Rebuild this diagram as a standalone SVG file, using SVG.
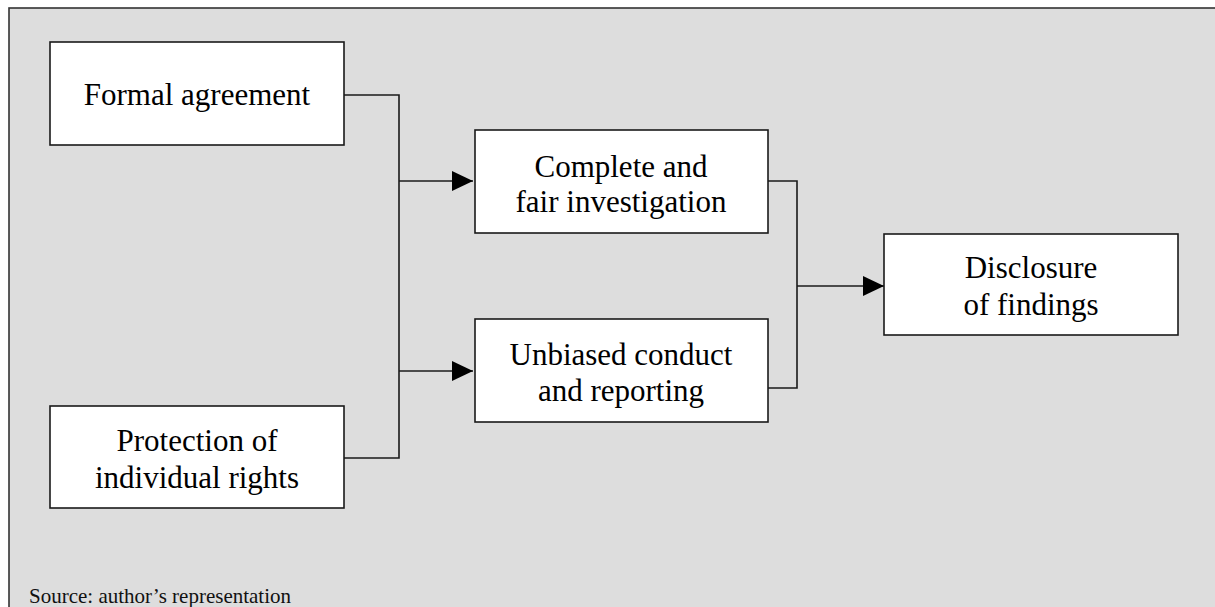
<svg xmlns="http://www.w3.org/2000/svg" width="1215" height="607" viewBox="0 0 1215 607">
  <style>
    .box { fill: #ffffff; stroke: #1a1a1a; stroke-width: 1.6; }
    .lbl { font-family: "Liberation Serif", "Times New Roman", serif; font-size: 31px; fill: #000000; text-anchor: middle; }
    .wire { fill: none; stroke: #1a1a1a; stroke-width: 1.6; }
    .src { font-family: "Liberation Serif", "Times New Roman", serif; font-size: 21px; fill: #111111; }
  </style>
  <defs>
    <marker id="arrow" markerUnits="userSpaceOnUse" markerWidth="22" markerHeight="22" refX="21" refY="10" orient="auto">
      <path d="M0,0 L21,10 L0,20 Z" fill="#000000"/>
    </marker>
  </defs>

  <!-- panel background -->
  <rect x="9" y="8" width="1216" height="610" fill="#dddddd" stroke="#333333" stroke-width="1.6"/>

  <g id="connectors">
    <!-- left bracket joining the two inputs -->
    <polyline class="wire" points="344,95 399,95 399,458 344,458"/>
    <line class="wire" x1="399" y1="181" x2="473" y2="181" marker-end="url(#arrow)"/>
    <line class="wire" x1="399" y1="371" x2="473" y2="371" marker-end="url(#arrow)"/>
    <!-- right bracket joining the two middle steps -->
    <polyline class="wire" points="768,181 797,181 797,388 768,388"/>
    <line class="wire" x1="797" y1="286" x2="884" y2="286" marker-end="url(#arrow)"/>
  </g>

  <g id="formal-agreement">
    <rect class="box" x="50" y="42" width="294" height="103"/>
    <text class="lbl" x="197" y="105">Formal agreement</text>
  </g>

  <g id="protection-of-rights">
    <rect class="box" x="50" y="406" width="294" height="102"/>
    <text class="lbl" x="197" y="451">Protection of</text>
    <text class="lbl" x="197" y="488">individual rights</text>
  </g>

  <g id="complete-investigation">
    <rect class="box" x="475" y="130" width="293" height="103"/>
    <text class="lbl" x="621" y="177">Complete and</text>
    <text class="lbl" x="621" y="212">fair investigation</text>
  </g>

  <g id="unbiased-conduct">
    <rect class="box" x="475" y="319" width="293" height="103"/>
    <text class="lbl" x="621" y="365">Unbiased conduct</text>
    <text class="lbl" x="621" y="401">and reporting</text>
  </g>

  <g id="disclosure">
    <rect class="box" x="884" y="234" width="294" height="101"/>
    <text class="lbl" x="1031" y="278">Disclosure</text>
    <text class="lbl" x="1031" y="315">of findings</text>
  </g>

  <text class="src" x="29" y="603">Source: author’s representation</text>
</svg>
